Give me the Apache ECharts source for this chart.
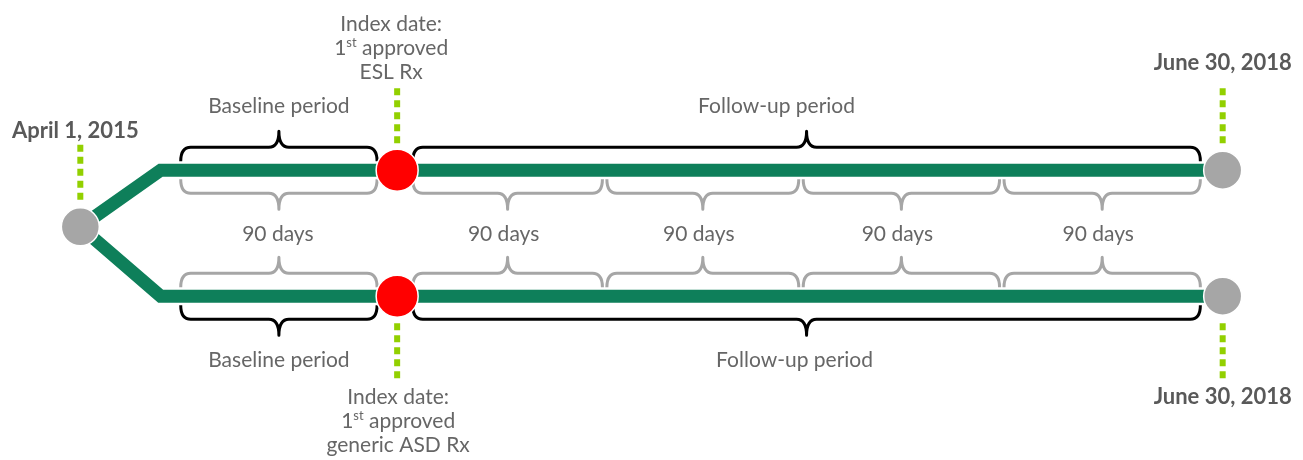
<!DOCTYPE html>
<html>
<head>
<meta charset="utf-8">
<script src="https://cdn.jsdelivr.net/npm/echarts@6/dist/echarts.min.js"></script>
<style>
  html, body { margin: 0; padding: 0; background: #fff; }
  #studyDesign { width: 1303px; height: 460px; }
</style>
</head>
<body>
<div id="studyDesign"></div>
<script>
  // schematic time axis in days, 0 = index date (baseline side not to scale)
  var trackY = [1, -1];                 // top: ESL cohort, bottom: generic ASD cohort
  var startPoint = [-142, 0.1];         // split node, April 1, 2015
  var branchDay = -106;
  var indexDay = 0;
  var endDay = 370;                     // June 30, 2018
  var periodSpans = [[-97, -9], [7, 360]];
  var periodLabels = ['Baseline period', 'Follow-up period'];
  var windowSpans = [[-97, -9], [7, 92], [94, 180], [182, 270], [272, 360]];
  var windowLabels = ['90 days', '90 days', '90 days', '90 days', '90 days'];
  var startLabel = 'April 1, 2015';
  var endLabel = 'June 30, 2018';
  var indexLabels = ['Index date:\n1{sup|st} approved\nESL Rx', 'Index date:\n1{sup|st} approved\ngeneric ASD Rx'];

  var green = '#0e7f5a', lime = '#92d000', grey = '#a6a6a6', textGrey = '#666666', dateGrey = '#595959';
  var font = 'Lato, "Open Sans", sans-serif';

  var chart = echarts.init(document.getElementById('studyDesign'), null, { renderer: 'canvas' });

  // braces: [from, to, track y, side] side -1 = above the track, 1 = below
  var periodData = [], periodText = [], periodDx = [];
  var windowData = [], windowText = [], windowDx = [];
  trackY.forEach(function (y, t) {
    periodSpans.forEach(function (s, i) {
      periodData.push([s[0], s[1], y, t === 0 ? -1 : 1]);
      periodText.push(periodLabels[i]);
      periodDx.push(i === 1 ? (t === 0 ? -30 : -12) : 0);
    });
    windowSpans.forEach(function (s, i) {
      windowData.push([s[0], s[1], y, t === 0 ? 1 : -1]);
      windowText.push(t === 0 ? windowLabels[i] : '');
      windowDx.push(i === 0 ? -1 : -4);
    });
  });

  function braceRender(color, texts, dxs) {
    return function (params, api) {
      var y = api.value(2), s = api.value(3);
      var p0 = api.coord([api.value(0), y]);
      var p1 = api.coord([api.value(1), y]);
      var x0 = p0[0], x1 = p1[0], yc = p0[1], xm = (x0 + x1) / 2;
      var yE = yc + s * 9, yL = yc + s * 23, yP = yc + s * 39, r = 10;
      var d = 'M' + x0 + ',' + yE + 'Q' + x0 + ',' + yL + ',' + (x0 + r) + ',' + yL +
        'L' + (xm - r) + ',' + yL + 'Q' + xm + ',' + yL + ',' + xm + ',' + yP +
        'Q' + xm + ',' + yL + ',' + (xm + r) + ',' + yL +
        'L' + (x1 - r) + ',' + yL + 'Q' + x1 + ',' + yL + ',' + x1 + ',' + yE;
      var kids = [{
        type: 'path',
        shape: { pathData: d },
        style: { fill: 'none', stroke: color, lineWidth: 3, lineJoin: 'round' }
      }];
      var txt = texts[params.dataIndex];
      if (txt) {
        kids.push({
          type: 'text',
          style: {
            text: txt, x: xm + dxs[params.dataIndex], y: yP + s * 25,
            align: 'center', verticalAlign: 'middle',
            fontSize: 21, fontFamily: font, fill: textGrey
          }
        });
      }
      return { type: 'group', children: kids };
    };
  }

  // dotted markers above / below the nodes, -1 = up
  var markerData = [
    [startPoint[0], startPoint[1], -1],
    [indexDay, trackY[0], -1],
    [endDay, trackY[0], -1],
    [indexDay, trackY[1], 1],
    [endDay, trackY[1], 1]
  ];
  var markerText = [startLabel, indexLabels[0], endLabel, indexLabels[1], endLabel];
  var markerBold = [true, false, true, false, true];
  var markerGap = [2, 4, 13, 7, 7];
  var markerDx = [-5, -6, 0, 1, 0];

  function markerRender(params, api) {
    var c = api.coord([api.value(0), api.value(1)]);
    var dir = api.value(2), i = params.dataIndex;
    var far = c[1] + dir * 82, near = c[1] + dir * 22;
    var bold = markerBold[i];
    return {
      type: 'group',
      children: [{
        type: 'line',
        shape: { x1: c[0], y1: far, x2: c[0], y2: near },
        style: { stroke: lime, lineWidth: 6, lineDash: [7, 5] }
      }, {
        type: 'text',
        style: {
          text: markerText[i], x: c[0] + markerDx[i], y: far + dir * markerGap[i],
          align: 'center', verticalAlign: dir < 0 ? 'bottom' : 'top',
          fontSize: bold ? 22 : 21, fontWeight: bold ? 'bold' : 'normal',
          fontFamily: font, fill: bold ? dateGrey : textGrey, lineHeight: 24,
          rich: { sup: { fontSize: 13, fontFamily: font, fill: textGrey, verticalAlign: 'top', lineHeight: 24 } }
        }
      }]
    };
  }

  function trackLine(y) {
    return {
      type: 'line',
      data: [startPoint, [branchDay, y], [endDay, y]],
      symbol: 'none',
      silent: true,
      z: 1,
      lineStyle: { color: green, width: 13, join: 'miter', cap: 'butt' }
    };
  }

  chart.setOption({
    animation: false,
    grid: { left: 0, right: 0, top: 0, bottom: 0 },
    xAxis: { type: 'value', min: -178, max: 406, show: false },
    yAxis: { type: 'value', min: -3.6, max: 3.7, show: false },
    series: [
      trackLine(trackY[0]),
      trackLine(trackY[1]),
      {
        type: 'custom', z: 2, renderItem: braceRender('#000000', periodText, periodDx),
        data: periodData, encode: { x: [0, 1], y: 2 }
      },
      {
        type: 'custom', z: 2, renderItem: braceRender(grey, windowText, windowDx),
        data: windowData, encode: { x: [0, 1], y: 2 }
      },
      {
        type: 'custom', z: 2, renderItem: markerRender,
        data: markerData, encode: { x: 0, y: 1 }
      },
      {
        type: 'scatter', z: 3, symbolSize: 38,
        itemStyle: { color: grey, borderColor: '#ffffff', borderWidth: 1.5, opacity: 1 },
        data: [startPoint, [endDay, trackY[0]], [endDay, trackY[1]]]
      },
      {
        type: 'scatter', z: 3, symbolSize: 42,
        itemStyle: { color: '#ff0000', borderColor: '#ffffff', borderWidth: 1.5, opacity: 1 },
        data: [[indexDay, trackY[0]], [indexDay, trackY[1]]]
      }
    ]
  });
</script>
</body>
</html>
